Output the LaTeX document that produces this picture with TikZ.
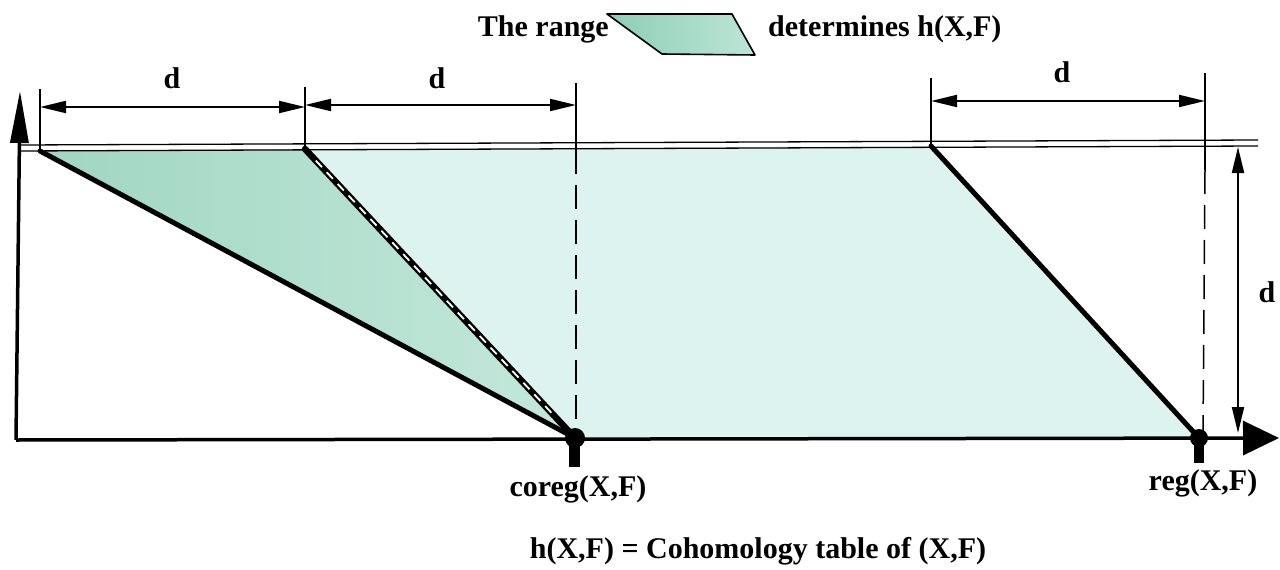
\documentclass[tikz,border=0pt]{standalone}
\usepackage{fontspec}
\setmainfont{Liberation Serif}
\usetikzlibrary{arrows.meta,calc}
\definecolor{lightmint}{RGB}{221,243,239}
\definecolor{midmintA}{RGB}{160,214,194}
\definecolor{midmintB}{RGB}{196,232,219}
\definecolor{legmintA}{RGB}{140,206,182}
\definecolor{legmintB}{RGB}{190,229,214}
\begin{document}
\begin{tikzpicture}[x=1pt,y=-1pt,
  lbl/.style={font=\fontsize{30}{34}\selectfont\bfseries, inner sep=0pt},
  thinline/.style={line width=1.3pt},
  dimarrow/.style={line width=2pt, {Triangle[length=26pt,width=12pt]}-{Triangle[length=26pt,width=12pt]}},
  boldedge/.style={line width=5pt, line cap=round},
  axis/.style={line width=3.5pt},
  guide/.style={line width=1.5pt, dash pattern=on 24pt off 11pt}]
\useasboundingbox (0,0) rectangle (1280,570);

% key points
\coordinate (A) at (40,151);
\coordinate (B) at (305,149);
\coordinate (C) at (931,146);
\coordinate (co) at (575,438);
\coordinate (re) at (1199,438);

% shaded regions
\shade[left color=midmintA, right color=midmintB] (A) -- (B) -- (co) -- cycle;
\fill[lightmint] (B) -- (C) -- (re) -- (co) -- cycle;

% double top line
\coordinate (t1a) at (20,145); \coordinate (t1b) at (1258,140);
\coordinate (t2a) at (20,151); \coordinate (t2b) at (1258,146);
\draw[thinline] (t1a) -- (t1b);
\draw[thinline] (t2a) -- (t2b);

% extension lines
\coordinate (e1t) at (40,89);   \coordinate (e1b) at (40,151);
\coordinate (e2t) at (305,87);  \coordinate (e2b) at (305,149);
\coordinate (e3t) at (576,83);  \coordinate (e3b) at (576,150);
\coordinate (e4t) at (931,78);  \coordinate (e4b) at (931,146);
\coordinate (e5t) at (1205,73); \coordinate (e5b) at (1205,170);
\draw[thinline] (e1t) -- (e1b);
\draw[thinline] (e2t) -- (e2b);
\draw[thinline] (e3t) -- (e3b);
\draw[thinline] (e4t) -- (e4b);
\draw[thinline] (e5t) -- (e5b);

% dashed guides
\coordinate (g1b) at (576,432);
\coordinate (g2b) at (1203,432);
\draw[guide] (e3b) -- (g1b);
\draw[guide] (e5b) -- (g2b);

% dimension arrows
\coordinate (d1a) at (40,107);  \coordinate (d1b) at (305,107);
\coordinate (d2a) at (305,105); \coordinate (d2b) at (576,105);
\coordinate (d3a) at (931,101); \coordinate (d3b) at (1205,101);
\coordinate (d4a) at (1238,147); \coordinate (d4b) at (1238,433);
\draw[dimarrow] (d1a) -- (d1b);
\draw[dimarrow] (d2a) -- (d2b);
\draw[dimarrow] (d3a) -- (d3b);
\draw[dimarrow] (d4a) -- (d4b);

% slanted edges
\draw[boldedge] (A) -- (co);
\draw[line width=6.5pt, line cap=round] (B) -- (co);
\draw[white, line width=1.8pt, dash pattern=on 9pt off 7pt] ($(B)!0.04!(co)$) -- ($(B)!0.93!(co)$);
\draw[boldedge] (C) -- (re);

% axes
\coordinate (O) at (16,440);
\coordinate (xend) at (1279,438);
\coordinate (yend) at (20,91);
\draw[axis, -{Triangle[length=36pt,width=34pt]}] (O) -- (xend);
\draw[axis, -{Triangle[length=52pt,width=18pt]}] (O) -- (yend);

% points
\fill (co) circle (10);
\fill (569,438) rectangle (580,467);
\fill (re) circle (9);
\fill (1194,438) rectangle (1204,463);

% legend parallelogram
\coordinate (p1) at (607,14); \coordinate (p2) at (732,14);
\coordinate (p3) at (755,55); \coordinate (p4) at (662,54);
\shade[left color=legmintA, right color=legmintB] (p1) -- (p2) -- (p3) -- (p4) -- cycle;
\draw[line width=1.6pt, line join=round] (p1) -- (p2) -- (p3) -- (p4) -- cycle;

% labels
\node[lbl, anchor=base east] (trange) at (609,36) {The range};
\node[lbl, anchor=base west] (tdet) at (768,36) {determines h(X,F)};
\node[lbl] (dl1) at (172,78) {d};
\node[lbl] (dl2) at (437,78) {d};
\node[lbl] (dl3) at (1062,72) {d};
\node[lbl] (dl4) at (1267,292) {d};
\node[lbl, anchor=base] (lco) at (578,496) {coreg(X,F)};
\node[lbl, anchor=base] (lre) at (1203,490) {reg(X,F)};
\node[lbl, anchor=base] (lbot) at (758,558) {h(X,F) = Cohomology table of (X,F)};
\end{tikzpicture}
\end{document}
